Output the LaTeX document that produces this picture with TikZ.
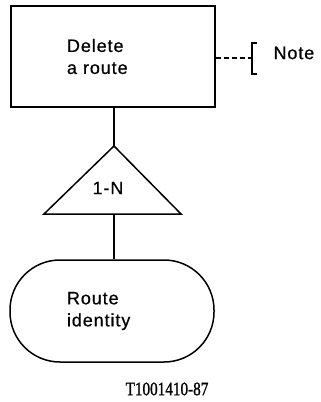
\documentclass[tikz,border=0pt]{standalone}
\usepackage{fontspec}
\newfontfamily\boxfont{Liberation Sans}[LetterSpace=5, FakeBold=0.6]
\newfontfamily\capfont{Liberation Serif}[FakeBold=1.2]
\usetikzlibrary{positioning}
\tikzstyle{entity} = [rectangle, minimum width=204pt, minimum height=101pt, text width=92pt, inner xsep=0pt, align=left, draw=black, line width=1.5pt, font=\boxfont\fontsize{18}{22}\selectfont]
\tikzstyle{attrib} = [rectangle, rounded corners=50pt, minimum width=204pt, minimum height=102pt, text width=90pt, inner xsep=0pt, align=left, draw=black, line width=1.5pt, font=\boxfont\fontsize{18}{22}\selectfont]
\tikzstyle{link} = [line width=1.5pt]
\tikzstyle{notelink} = [line width=1.5pt, dash pattern=on 5pt off 3pt]
\begin{document}
\begin{tikzpicture}[x=1pt,y=-1pt]
\useasboundingbox (0,0) rectangle (321,402);
\node (del) [entity] at (113,56.5) {Delete\\a route};
\node (ident) [attrib] at (112,311) {Route\\identity};
\node (card) [font=\boxfont\fontsize{18}{22}\selectfont] at (108,188) {1-N};
\coordinate (tritop) at (114,146);
\coordinate (tribase) at (114,214);
\draw [link] (tritop) -- (181,214) -- (44,214) -- cycle;
\coordinate (brk) at (252,58);
\node (note) [font=\boxfont\fontsize{18}{22}\selectfont, anchor=west] at (270,53) {Note};
\node (fig) [font=\capfont\fontsize{19}{22}\selectfont] at (167,389) {\scalebox{0.8}[1]{T1001410-87}};

\draw [link] (del.south -| tritop) -- (tritop);
\draw [link] (tribase) -- (ident.north -| tribase);
\draw [notelink] (del.east |- brk) -- (brk);
\draw [line width=2.5pt] ([xshift=5pt,yshift=-16pt]brk) -- ([yshift=-16pt]brk) -- ([yshift=15pt]brk) -- ([xshift=5pt,yshift=15pt]brk);
\end{tikzpicture}
\end{document}
